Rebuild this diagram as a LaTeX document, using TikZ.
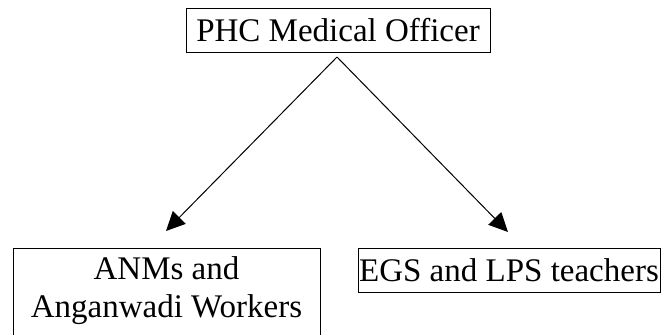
\documentclass[tikz,border=0pt]{standalone}
\usepackage{fontspec}
\setmainfont{Liberation Serif}
\usepackage{tikz}
\usetikzlibrary{arrows.meta}

\begin{document}
\begin{tikzpicture}[x=1pt,y=-1pt,>={Triangle[length=19pt,width=18pt]},
	                    line width=1pt,box node/.style={rectangle,draw,inner sep=0pt,
	                    font=\fontsize{33}{38}\selectfont}]
		\useasboundingbox (0,0) rectangle (665,335);
		% Nodes
		  % Top
		  \node (PHC) at (338, 30) [box node,minimum width=304pt,minimum height=44pt] {PHC Medical Officer};
		  \coordinate (apex) at (337, 57);
		  
		  % Bottom
		  \node (ANM) at (166.5, 248) [box node,anchor=north,minimum width=307pt,
		        minimum height=100pt,inner ysep=8pt,align=center,
		        text depth=52pt] {ANMs and\\Anganwadi Workers};
		  \node (EGS) at (509, 270) [box node,minimum width=302pt,minimum height=44pt] {EGS and LPS teachers};
		  
		  \coordinate (ANMtip) at (166, 231);
		  \coordinate (EGStip) at (508, 232);
		
		% Edges
		  \draw[->] (apex) -- (ANMtip);
		  \draw[->] (apex) -- (EGStip);
		  
		\end{tikzpicture}
\end{document}
